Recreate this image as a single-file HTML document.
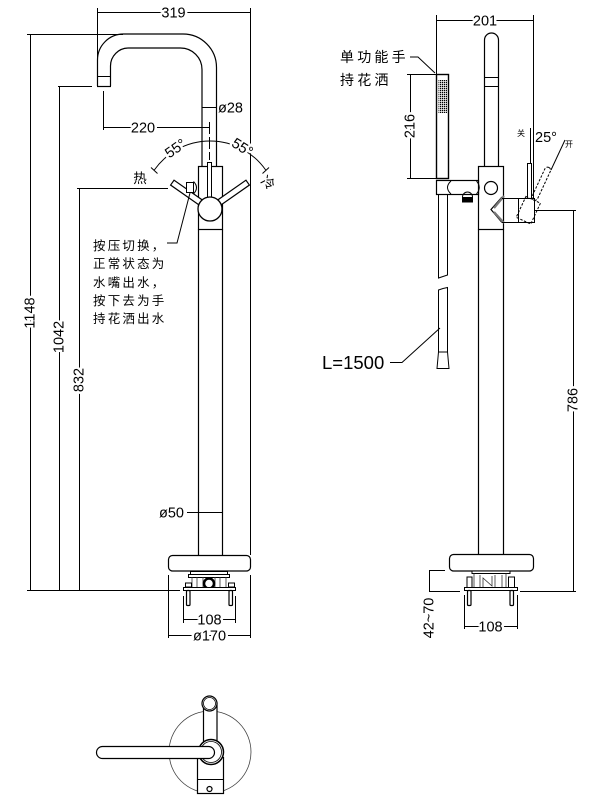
<!DOCTYPE html>
<html><head><meta charset="utf-8"><style>
html,body{margin:0;padding:0;background:#fff;}
svg{display:block;}
text{font-family:"Liberation Sans","Noto Sans CJK SC",sans-serif;fill:#000;}
.bg{paint-order:stroke;stroke:#fff;stroke-width:5px;stroke-linejoin:round;}
</style></head><body>
<svg width="600" height="800" viewBox="0 0 600 800" xmlns="http://www.w3.org/2000/svg">
<defs>
<pattern id="dots" width="2" height="2" patternUnits="userSpaceOnUse">
<rect width="2" height="2" fill="#fff"/><rect width="1.3" height="1.3" fill="#000"/>
</pattern>
</defs>
<g fill="none" stroke="#000" stroke-width="1">
<!-- ===== LEFT VIEW ===== -->
<!-- 319 dim -->
<line x1="97" y1="12.5" x2="250" y2="12.5"/>
<line x1="97.5" y1="8" x2="97.5" y2="60"/>
<line x1="250.5" y1="8" x2="250.5" y2="555"/>
<!-- spout -->
<path d="M97.5,86 V60 A26,26 0 0 1 123.5,34 H183 A33.5,33.5 0 0 1 216.5,67.5 V166.5" stroke-width="1.2"/>
<path d="M110.5,86 V66 A18,18 0 0 1 128.5,48 H180.5 A21.5,21.5 0 0 1 202,69.5 V166.5" stroke-width="1.2"/>
<line x1="97.5" y1="76.5" x2="110.5" y2="76.5"/>
<line x1="97" y1="86.5" x2="111" y2="86.5" stroke-width="1.2"/>
<!-- ø28 leader -->
<line x1="202" y1="107.5" x2="217" y2="107.5"/>
<!-- 220 dim -->
<line x1="103.5" y1="91" x2="103.5" y2="130"/>
<line x1="103.5" y1="127.5" x2="209.5" y2="127.5"/>
<line x1="209.5" y1="122" x2="209.5" y2="160" stroke-dasharray="12,3"/>
<!-- overall verticals -->
<line x1="27" y1="34.5" x2="123" y2="34.5"/>
<line x1="58" y1="86.5" x2="92" y2="86.5"/>
<line x1="77" y1="188.5" x2="168" y2="188.5"/>
<line x1="30.5" y1="34.5" x2="30.5" y2="590.5"/>
<line x1="59.5" y1="86.5" x2="59.5" y2="590.5"/>
<line x1="79.5" y1="188.5" x2="79.5" y2="590.5"/>
<line x1="27" y1="590.5" x2="180" y2="590.5"/>
<!-- angle arc -->
<path d="M154.3,170 A68,68 0 0 1 265.7,170"/>
<line x1="151" y1="167.5" x2="157.5" y2="173.5"/>
<line x1="269" y1="167.5" x2="262.5" y2="173.5"/>
<!-- body -->
<rect x="198.5" y="166.5" width="24" height="63" fill="#fff" stroke-width="1.2"/>
<line x1="198.5" y1="229.5" x2="198.5" y2="555" stroke-width="1.2"/>
<line x1="222.5" y1="229.5" x2="222.5" y2="555" stroke-width="1.2"/>
<rect x="207.5" y="162.5" width="4" height="35" fill="#fff"/>
<!-- arms -->
<g transform="translate(210,209) rotate(-145)"><rect x="0" y="-3" width="46" height="6" fill="#fff" stroke-width="1.2"/></g>
<g transform="translate(210,209) rotate(-35)"><rect x="0" y="-3" width="46" height="6" fill="#fff" stroke-width="1.2"/></g>
<circle cx="210" cy="209" r="12" fill="#fff" stroke-width="1.3"/>
<!-- button -->
<rect x="186.5" y="182.5" width="7" height="10" fill="#fff"/>
<path d="M193.5,181.5 Q199.5,187.5 193.5,194"/>
<polyline points="190,193 177,243 167,243"/>
<!-- ø50 leader -->
<line x1="187" y1="512.5" x2="222" y2="512.5"/>
<!-- base -->
<rect x="168.5" y="555.5" width="82" height="15.5" rx="4" fill="#fff" stroke-width="1.2"/>
<!-- mechanism left -->
<rect x="190.5" y="571.5" width="37" height="3" fill="#fff"/>
<rect x="188.5" y="574.5" width="41" height="3" fill="#fff"/>
<g stroke-width="0.8" stroke="#333">
<line x1="192" y1="577" x2="192" y2="587"/><line x1="197" y1="577" x2="197" y2="587"/>
<line x1="203" y1="577" x2="203" y2="587"/><line x1="215" y1="577" x2="215" y2="587"/>
<line x1="220" y1="577" x2="220" y2="587"/><line x1="226" y1="577" x2="226" y2="587"/>
</g>
<circle cx="209" cy="583.5" r="5" stroke-width="2.5"/>
<rect x="185.5" y="583" width="6" height="4" fill="#fff"/>
<rect x="228.5" y="583" width="6" height="4" fill="#fff"/>
<rect x="183.5" y="587.5" width="52" height="3" fill="#fff"/>
<rect x="186.5" y="590.5" width="3.5" height="15" rx="1" stroke-width="1.2"/>
<rect x="229" y="590.5" width="3.5" height="15" rx="1" stroke-width="1.2"/>
<!-- 108 / ø170 -->
<line x1="183.5" y1="596" x2="183.5" y2="623"/>
<line x1="235.5" y1="596" x2="235.5" y2="623"/>
<line x1="183.5" y1="619.5" x2="235.5" y2="619.5"/>
<line x1="168.5" y1="575" x2="168.5" y2="638"/>
<line x1="250.5" y1="575" x2="250.5" y2="638"/>
<line x1="168.5" y1="635.5" x2="250.5" y2="635.5"/>

<!-- ===== RIGHT VIEW ===== -->
<line x1="436" y1="20.5" x2="533" y2="20.5"/>
<line x1="436.5" y1="15" x2="436.5" y2="74"/>
<line x1="533.5" y1="15" x2="533.5" y2="198"/>
<!-- vertical pipe -->
<path d="M484.5,167 V40 A7,7 0 0 1 498.5,40 V167" stroke-width="1.2"/>
<line x1="484.5" y1="77.5" x2="498.5" y2="77.5"/>
<line x1="484.5" y1="86.5" x2="498.5" y2="86.5"/>
<!-- handshower -->
<rect x="436.5" y="74.5" width="12" height="104" fill="#fff" stroke-width="1.4"/>
<rect x="438.5" y="80" width="8.5" height="33" fill="url(#dots)" stroke="none"/>
<!-- 216 dim -->
<line x1="407" y1="74.5" x2="436" y2="74.5"/>
<line x1="407" y1="178.5" x2="436" y2="178.5"/>
<line x1="410.5" y1="74.5" x2="410.5" y2="178.5"/>
<polyline points="410,57 418,57 435,73"/>
<!-- body -->
<rect x="478.5" y="166.5" width="25" height="63" fill="#fff" stroke-width="1.2"/>
<line x1="478.5" y1="229.5" x2="478.5" y2="554" stroke-width="1.2"/>
<line x1="503.5" y1="229.5" x2="503.5" y2="554" stroke-width="1.2"/>
<circle cx="491" cy="188" r="6.5" stroke-width="1.2"/>
<!-- holder -->
<rect x="436.5" y="180.5" width="42" height="14" fill="#fff" stroke-width="1.2"/>
<path d="M451,181 Q444,187.5 451,194" />
<path d="M476.5,181 Q482,187.5 476.5,194" />
<path d="M462.5,197 A5,5 0 0 1 472.5,197"/>
<rect x="462" y="197" width="11" height="5.5" fill="#000" stroke="none"/>
<!-- hose -->
<path d="M438.5,195 V278 L443,276.5 L447.5,275 V195"/>
<path d="M438.5,352 V290 L443,288.5 L447.5,287.5 V352"/>
<path d="M438.5,352 H447.5 L449,368.5 H437 Z"/>
<polyline points="390,362.5 402,362.5 440,328"/>
<!-- valve -->
<path d="M502,197 L491,209.5 L502,222.5" stroke-width="1.2"/>
<path d="M504,196 L494,208" stroke="#777" stroke-width="2.2"/>
<path d="M494,212 L504,223" stroke="#777" stroke-width="2.2"/>
<line x1="502" y1="198.5" x2="518.5" y2="198.5"/>
<line x1="502" y1="222.5" x2="518.5" y2="222.5"/>
<rect x="518.5" y="198.5" width="16" height="24" fill="#fff"/>
<rect x="527.5" y="163.5" width="4" height="35" fill="#fff"/>
<g transform="rotate(25 529 210)" stroke-dasharray="2.5,1.5" stroke-width="1">
<rect x="520.5" y="199" width="16" height="23"/>
<rect x="526" y="163" width="6" height="36" rx="3"/>
</g>
<line x1="530.5" y1="128" x2="530.5" y2="163"/>
<line x1="551" y1="170" x2="565" y2="140"/>
<line x1="535" y1="210.5" x2="576" y2="210.5"/>
<line x1="573.5" y1="210.5" x2="573.5" y2="591.5"/>
<line x1="520" y1="591.5" x2="576" y2="591.5"/>
<!-- base right -->
<rect x="449.5" y="554.5" width="84" height="16.5" rx="4" fill="#fff" stroke-width="1.2"/>
<rect x="472" y="571" width="38" height="2.5" fill="#fff"/>
<rect x="467" y="577" width="5" height="11" fill="#fff"/>
<rect x="508.5" y="577" width="6" height="11" fill="#fff"/>
<g stroke-width="0.8" stroke="#333">
<line x1="474" y1="573.5" x2="474" y2="588"/><line x1="480" y1="575" x2="480" y2="588"/>
<polyline points="483,588 483,578 492,586 492,576"/>
<line x1="495" y1="575" x2="495" y2="588"/><line x1="502" y1="575" x2="502" y2="588"/>
<line x1="506" y1="573.5" x2="506" y2="588"/>
</g>
<rect x="464.5" y="587.5" width="53" height="3" fill="#fff"/>
<rect x="467.5" y="590.5" width="3.5" height="15" rx="1" stroke-width="1.2"/>
<rect x="510" y="590.5" width="3.5" height="15" rx="1" stroke-width="1.2"/>
<!-- 42~70 -->
<line x1="429" y1="570.5" x2="445" y2="570.5"/>
<line x1="429" y1="591.5" x2="460" y2="591.5"/>
<line x1="429.5" y1="570.5" x2="429.5" y2="591.5"/>
<!-- 108 right -->
<line x1="464.5" y1="595" x2="464.5" y2="629"/>
<line x1="517.5" y1="595" x2="517.5" y2="629"/>
<line x1="464.5" y1="626.5" x2="517.5" y2="626.5"/>

<!-- ===== TOP VIEW ===== -->
<circle cx="210" cy="752" r="41" stroke="#444" stroke-width="0.8"/>
<rect x="203.5" y="703" width="13.5" height="40" fill="#fff" stroke-width="1.2"/>
<circle cx="209.5" cy="703.5" r="7.5" fill="#fff" stroke-width="1.2"/>
<circle cx="209.5" cy="703.5" r="6" stroke-width="0.8"/>
<rect x="197.5" y="757.5" width="26" height="36" fill="#fff" stroke-width="1.2"/>
<line x1="197.5" y1="779.5" x2="223.5" y2="779.5"/>
<circle cx="209.5" cy="789" r="2.5" stroke-width="1.2"/>
<circle cx="211" cy="752" r="12.5" fill="#fff" stroke-width="1.5"/>
<circle cx="211" cy="752" r="10.5" stroke-width="0.8"/>
<rect x="96.5" y="746.5" width="118" height="12" rx="6" fill="#fff" stroke-width="1.2"/>
</g>

<!-- ===== TEXT ===== -->
<g font-size="14.5">
<text class="bg" x="173.5" y="17.5" text-anchor="middle">319</text>
<text x="218" y="112.5">ø28</text>
<text class="bg" x="143" y="132.5" text-anchor="middle">220</text>
<text class="bg" transform="translate(176,149) rotate(-35)" text-anchor="middle" dominant-baseline="central">55°</text>
<text class="bg" transform="translate(242,148) rotate(32)" text-anchor="middle" dominant-baseline="central">55°</text>
<text class="bg" transform="translate(30.5,313) rotate(-90)" text-anchor="middle" dominant-baseline="central">1148</text>
<text class="bg" transform="translate(59.5,337) rotate(-90)" text-anchor="middle" dominant-baseline="central">1042</text>
<text class="bg" transform="translate(79.5,380) rotate(-90)" text-anchor="middle" dominant-baseline="central">832</text>
<text x="159" y="517.5">ø50</text>
<text class="bg" x="209.5" y="624.5" text-anchor="middle">108</text>
<text class="bg" x="209.5" y="640.5" text-anchor="middle">ø170</text>
<text class="bg" x="485" y="25.5" text-anchor="middle">201</text>
<text class="bg" transform="translate(410.5,126) rotate(-90)" text-anchor="middle" dominant-baseline="central">216</text>
<text x="535" y="142">25°</text>
<text class="bg" transform="translate(573.5,400) rotate(-90)" text-anchor="middle" dominant-baseline="central">786</text>
<text class="bg" transform="translate(429.5,618) rotate(-90)" text-anchor="middle" dominant-baseline="central">42~70</text>
<text class="bg" x="490.5" y="631.5" text-anchor="middle">108</text>
</g>
<text x="322" y="369" font-size="18.5">L=1500</text>
<text x="140" y="183" font-size="13.5" text-anchor="middle">热</text>
<text transform="translate(268,183) rotate(40)" font-size="13.5" text-anchor="middle" dominant-baseline="central">冷</text>
<text x="521" y="136" font-size="8" text-anchor="middle">关</text>
<text x="569" y="147" font-size="8" text-anchor="middle">开</text>
<g font-size="12.5" letter-spacing="2.2">
<text x="93" y="250">按压切换，</text>
<text x="93" y="268">正常状态为</text>
<text x="93" y="287">水嘴出水，</text>
<text x="93" y="305">按下去为手</text>
<text x="93" y="323">持花洒出水</text>
</g>
<g font-size="14" letter-spacing="3.2">
<text x="340" y="62">单功能手</text>
<text x="340" y="85">持花洒</text>
</g>
</svg>
</body></html>
